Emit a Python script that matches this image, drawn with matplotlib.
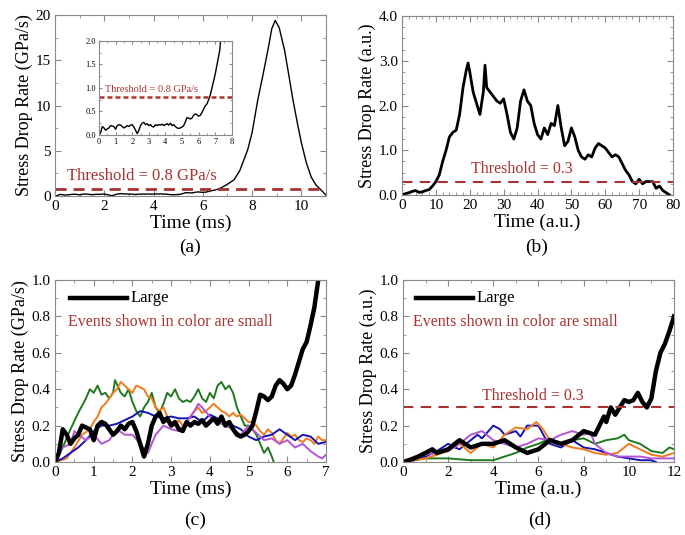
import matplotlib
matplotlib.use("Agg")
import matplotlib.pyplot as plt
import numpy as np
from matplotlib.ticker import AutoMinorLocator, FormatStrFormatter

plt.rcParams['font.family'] = ['Liberation Serif', 'DejaVu Serif']
plt.rcParams['mathtext.fontset'] = 'stix'

# ---- large event (shared by panels a, inset and c), time in ms ----
large_t = [0.0, 0.1, 0.2, 0.3, 0.4, 0.5, 0.6, 0.7, 0.8, 0.9, 1.0, 1.1, 1.2, 1.3, 1.4, 1.5,
           1.6, 1.7, 1.8, 1.9, 2.0, 2.1, 2.2, 2.3, 2.4, 2.5, 2.6, 2.7, 2.8, 2.9, 3.0, 3.1,
           3.2, 3.3, 3.4, 3.5, 3.6, 3.7, 3.8, 3.9, 4.0, 4.1, 4.2, 4.3, 4.4, 4.5, 4.6, 4.7,
           4.8, 4.9, 5.0, 5.1, 5.2, 5.3, 5.4, 5.5, 5.6, 5.7, 5.8, 5.9, 6.0, 6.1, 6.2, 6.3,
           6.4, 6.5, 6.6, 6.7, 6.8]
large_v = [0.0, 0.05, 0.18, 0.15, 0.10, 0.13, 0.15, 0.20, 0.19, 0.18, 0.12, 0.20, 0.22, 0.21, 0.18, 0.15,
           0.17, 0.20, 0.18, 0.21, 0.22, 0.17, 0.10, 0.03, 0.10, 0.20, 0.25, 0.27, 0.22, 0.24, 0.20, 0.22,
           0.18, 0.17, 0.22, 0.20, 0.22, 0.21, 0.23, 0.20, 0.22, 0.24, 0.21, 0.25, 0.20, 0.22, 0.18, 0.15,
           0.14, 0.15, 0.17, 0.20, 0.28, 0.37, 0.36, 0.34, 0.36, 0.42, 0.45, 0.43, 0.40, 0.42, 0.48, 0.55,
           0.62, 0.66, 0.75, 0.85, 1.00]
peak_t = [7.0, 7.27, 7.5, 7.82, 8.0, 8.23, 8.45, 8.64, 8.8, 8.94, 9.1, 9.32, 9.5, 9.66, 9.85,
          10.0, 10.2, 10.4, 10.6, 10.8, 11.0]
peak_v = [1.3, 1.8, 2.8, 5.1, 7.0, 10.6, 13.5, 16.1, 18.5, 19.4, 18.6, 16.1, 13.2, 10.6, 7.9,
          5.9, 3.7, 2.1, 1.2, 0.66, 0.1]

# ---- panel b ----
b_t = [0, 1, 2, 3, 4, 5, 6, 7, 8, 9, 10, 11, 12, 13, 14, 15, 16, 17, 18, 19, 19.5, 20,
       21, 22, 23, 24, 24.5, 25, 26, 27, 28, 29, 30, 31, 32, 33, 34, 35, 36, 37, 38, 39,
       40, 41, 42, 43, 44, 45, 46, 47, 48, 49, 50, 51, 52, 53, 54, 55, 56, 57, 58, 59,
       60, 61, 62, 63, 64, 65, 66, 67, 68, 69, 70, 71, 72, 73, 74, 75, 76, 77, 78, 79]
b_v = [0.0, 0.03, 0.05, 0.08, 0.10, 0.06, 0.07, 0.10, 0.12, 0.20, 0.30, 0.45, 0.75, 1.0, 1.3,
       1.4, 1.45, 1.8, 2.4, 2.8, 2.95, 2.75, 2.3, 2.05, 1.8, 2.3, 2.9, 2.4, 2.3, 2.2, 2.1,
       2.05, 2.15, 1.8, 1.4, 1.25, 1.5, 2.1, 2.35, 2.1, 2.0, 1.6, 1.35, 1.25, 1.5, 1.35,
       1.6, 1.55, 2.0, 1.5, 1.1, 1.2, 1.5, 1.3, 1.0, 0.85, 0.8, 0.9, 0.85, 1.05, 1.15,
       1.1, 1.05, 0.95, 0.85, 0.9, 0.85, 0.7, 0.55, 0.45, 0.3, 0.25, 0.35, 0.25, 0.3,
       0.3, 0.3, 0.15, 0.2, 0.1, 0.05, 0.0]

# ---- panel c small events (ms) ----
c_green_t = [0, 0.2, 0.4, 0.6, 0.8, 0.9, 1.0, 1.1, 1.2, 1.3, 1.4, 1.5, 1.55, 1.7, 1.8, 1.9,
             2.0, 2.1, 2.2, 2.3, 2.4, 2.5, 2.6, 2.7, 2.8, 2.9, 3.0, 3.1, 3.2, 3.3, 3.4, 3.5,
             3.6, 3.7, 3.8, 3.9, 4.0, 4.1, 4.2, 4.3, 4.4, 4.5, 4.6, 4.7, 4.8, 4.9, 5.0, 5.1,
             5.2, 5.3, 5.4, 5.5, 5.6, 5.65]
c_green_v = [0, 0.08, 0.18, 0.27, 0.35, 0.40, 0.38, 0.42, 0.37, 0.38, 0.35, 0.38, 0.45, 0.38,
             0.36, 0.40, 0.33, 0.28, 0.25, 0.30, 0.33, 0.38, 0.30, 0.27, 0.32, 0.38, 0.36, 0.40,
             0.35, 0.33, 0.34, 0.33, 0.36, 0.40, 0.35, 0.33, 0.38, 0.35, 0.42, 0.44, 0.40, 0.42,
             0.38, 0.30, 0.25, 0.20, 0.20, 0.18, 0.15, 0.10, 0.05, 0.08, 0.03, 0.0]
c_orange_t = [0, 0.3, 0.5, 0.7, 0.9, 1.0, 1.1, 1.2, 1.3, 1.4, 1.5, 1.6, 1.7, 1.8, 1.9, 2.0,
              2.1, 2.2, 2.3, 2.4, 2.5, 2.6, 2.7, 2.8, 2.9, 3.0, 3.1, 3.2, 3.3, 3.4, 3.5, 3.6,
              3.7, 3.8, 3.9, 4.0, 4.1, 4.2, 4.3, 4.4, 4.5, 4.6, 4.7, 4.8, 4.9, 5.0, 5.1, 5.2,
              5.3, 5.4, 5.5, 5.6, 5.7, 5.8, 5.9, 6.0, 6.1, 6.2, 6.3, 6.4, 6.5, 6.6, 6.7, 6.8,
              6.9, 7.0]
c_orange_v = [0, 0.02, 0.08, 0.15, 0.18, 0.22, 0.25, 0.30, 0.32, 0.35, 0.38, 0.40, 0.44, 0.42,
              0.40, 0.38, 0.42, 0.41, 0.40, 0.36, 0.35, 0.30, 0.28, 0.30, 0.25, 0.22, 0.20, 0.23,
              0.20, 0.22, 0.25, 0.28, 0.30, 0.27, 0.28, 0.30, 0.32, 0.30, 0.28, 0.27, 0.25, 0.27,
              0.25, 0.26, 0.24, 0.22, 0.22, 0.20, 0.17, 0.15, 0.18, 0.16, 0.12, 0.10, 0.13, 0.16,
              0.14, 0.15, 0.12, 0.11, 0.13, 0.12, 0.10, 0.14, 0.12, 0.12]
c_blue_t = [0, 0.2, 0.4, 0.6, 0.8, 1.0, 1.2, 1.4, 1.6, 1.8, 2.0, 2.2, 2.4, 2.6, 2.8, 3.0, 3.2,
            3.4, 3.6, 3.8, 4.0, 4.2, 4.4, 4.6, 4.8, 5.0, 5.2, 5.4, 5.6, 5.8, 6.0, 6.2, 6.4,
            6.6, 6.8, 7.0]
c_blue_v = [0, 0.02, 0.05, 0.08, 0.12, 0.17, 0.20, 0.20, 0.21, 0.23, 0.25, 0.28, 0.27, 0.25,
            0.24, 0.25, 0.24, 0.24, 0.25, 0.22, 0.26, 0.24, 0.22, 0.20, 0.18, 0.14, 0.12, 0.14,
            0.15, 0.18, 0.15, 0.12, 0.15, 0.14, 0.10, 0.11]
c_purple_t = [0, 0.2, 0.4, 0.5, 0.6, 0.8, 1.0, 1.2, 1.4, 1.6, 1.8, 2.0, 2.2, 2.4, 2.6, 2.8,
              3.0, 3.2, 3.4, 3.6, 3.7, 3.8, 4.0, 4.2, 4.4, 4.6, 4.8, 5.0, 5.2, 5.4, 5.6, 5.8,
              6.0, 6.2, 6.4, 6.6, 6.8, 6.9, 7.0]
c_purple_v = [0, 0.08, 0.10, 0.17, 0.15, 0.12, 0.15, 0.10, 0.12, 0.18, 0.15, 0.15, 0.10, 0.05,
              0.15, 0.20, 0.18, 0.17, 0.22, 0.28, 0.32, 0.30, 0.25, 0.22, 0.20, 0.18, 0.15, 0.20,
              0.16, 0.12, 0.13, 0.10, 0.12, 0.08, 0.10, 0.06, 0.03, 0.02, 0.04]

# ---- panel d (a.u.) ----
d_black_t = [0, 0.5, 1.0, 1.3, 1.5, 2.0, 2.5, 3.0, 3.5, 4.0, 4.5, 5.0, 5.5, 6.0, 6.5, 7.0,
             7.5, 8.0, 8.5, 8.7, 8.9, 9.0, 9.2, 9.4, 9.6, 9.8, 10.0, 10.2, 10.4, 10.6, 10.8,
             11.0, 11.2, 11.4, 11.6, 11.8, 12.0]
d_black_v = [0, 0.02, 0.05, 0.07, 0.05, 0.07, 0.12, 0.08, 0.10, 0.10, 0.12, 0.08, 0.05, 0.07,
             0.12, 0.10, 0.12, 0.17, 0.15, 0.20, 0.25, 0.22, 0.30, 0.26, 0.30, 0.34, 0.33, 0.34,
             0.38, 0.33, 0.30, 0.35, 0.50, 0.60, 0.65, 0.72, 0.80]
d_blue_t = [0, 0.5, 1.0, 1.5, 2.0, 2.3, 2.5, 3.0, 3.3, 3.5, 4.0, 4.3, 4.5, 5.0, 5.2, 5.5, 6.0,
            6.3, 6.5, 7.0, 7.5, 8.0, 8.5, 9.0, 9.5, 10.0, 10.5, 11.0, 11.2]
d_blue_v = [0, 0.01, 0.03, 0.06, 0.10, 0.08, 0.07, 0.12, 0.15, 0.13, 0.20, 0.18, 0.15, 0.17,
            0.14, 0.20, 0.20, 0.13, 0.10, 0.08, 0.12, 0.08, 0.07, 0.05, 0.03, 0.02, 0.01, 0.01, 0.0]
d_orange_t = [0, 0.5, 1.0, 1.5, 2.0, 2.5, 3.0, 3.5, 4.0, 4.5, 5.0, 5.5, 5.9, 6.2, 6.5, 7.0,
              7.5, 8.0, 8.5, 9.0, 9.5, 10.0, 10.5, 11.0, 11.5, 12.0]
d_orange_v = [0, 0.01, 0.02, 0.04, 0.06, 0.10, 0.05, 0.10, 0.08, 0.15, 0.19, 0.18, 0.22, 0.18,
              0.12, 0.10, 0.08, 0.07, 0.05, 0.04, 0.05, 0.10, 0.07, 0.04, 0.03, 0.05]
d_purple_t = [0, 0.5, 1.0, 1.5, 2.0, 2.5, 3.0, 3.5, 4.0, 4.5, 5.0, 5.5, 6.0, 6.5, 7.0, 7.5,
              8.0, 8.3, 8.5, 9.0, 9.5, 10.0, 10.5, 11.0, 12.0]
d_purple_v = [0, 0.03, 0.04, 0.05, 0.06, 0.10, 0.15, 0.17, 0.12, 0.10, 0.08, 0.10, 0.13, 0.12,
              0.15, 0.17, 0.15, 0.16, 0.10, 0.05, 0.03, 0.03, 0.03, 0.02, 0.02]
d_green_t = [0, 1.0, 2.0, 3.0, 4.0, 4.5, 5.0, 5.5, 6.0, 6.5, 7.0, 7.5, 8.0, 8.5, 9.0, 9.5, 9.8,
             10.0, 10.5, 11.0, 11.5, 11.8, 12.0]
d_green_v = [0, 0.02, 0.02, 0.01, 0.01, 0.03, 0.05, 0.08, 0.10, 0.13, 0.10, 0.12, 0.13, 0.10,
             0.12, 0.13, 0.15, 0.12, 0.10, 0.06, 0.05, 0.08, 0.07]

RED = '#a83232'
GREEN = '#1f7a1f'
ORANGE = '#f07b1c'
BLUE = '#1414b4'
PURPLE = '#b455d6'
SPINE = '#8a8a8a'


def style(ax, fs=11, xminor=2, yminor=2):
    for s in ax.spines.values():
        s.set_color(SPINE)
        s.set_linewidth(0.8)
    ax.xaxis.set_minor_locator(AutoMinorLocator(xminor))
    ax.yaxis.set_minor_locator(AutoMinorLocator(yminor))
    ax.tick_params(which='both', direction='in', top=True, right=True, color=SPINE,
                   labelsize=fs, pad=3)
    ax.tick_params(which='major', length=4)
    ax.tick_params(which='minor', length=2)


fig = plt.figure(figsize=(6.85, 5.35), dpi=100)

# (a)
ax1 = fig.add_axes([0.0803, 0.6336, 0.3956, 0.3383])
ax1.plot(large_t + peak_t, large_v + peak_v, color='black', lw=1.0)
ax1.axhline(0.8, color=RED, lw=2, ls=(0, (4, 2.5)))
ax1.text(0.48, 1.3, 'Threshold = 0.8 GPa/s', color=RED, fontsize=12, va='bottom')
ax1.set_xlim(0, 11)
ax1.set_ylim(0, 20)
ax1.set_xticks([0, 2, 4, 6, 8, 10])
ax1.set_yticks([0, 5, 10, 15, 20])
style(ax1)
ax1.set_xlabel('Time (ms)', fontsize=14, labelpad=1)
ax1.set_ylabel('Stress Drop Rate (GPa/s)', fontsize=13, labelpad=2)

# inset
axi = fig.add_axes([0.1445, 0.7477, 0.194, 0.1757])
axi.plot(large_t + peak_t, large_v + peak_v, color='black', lw=1.0)
axi.axhline(0.8, color=RED, lw=1.8, ls=(0, (2, 1.2)))
axi.text(0.35, 0.88, 'Threshold = 0.8 GPa/s', color=RED, fontsize=7.5, va='bottom')
axi.set_xlim(0, 8)
axi.set_ylim(0, 2)
axi.set_xticks(range(0, 9))
axi.set_yticks([0, 0.5, 1.0, 1.5, 2.0])
axi.yaxis.set_major_formatter(FormatStrFormatter('%.1f'))
style(axi, fs=6)
axi.tick_params(which='major', length=2.5, pad=2)
axi.tick_params(which='minor', length=1.2)

# (b)
ax2 = fig.add_axes([0.5869, 0.6355, 0.3956, 0.3346])
ax2.plot(b_t, b_v, color='black', lw=2.0)
ax2.axhline(0.3, color=RED, lw=1.5, ls=(0, (5, 3.5)))
ax2.text(35.5, 0.4, 'Threshold = 0.3', color=RED, fontsize=11.5, ha='center', va='bottom')
ax2.set_xlim(0, 80)
ax2.set_ylim(0, 4)
ax2.set_xticks(range(0, 81, 10))
ax2.set_yticks([0, 1, 2, 3, 4])
ax2.yaxis.set_major_formatter(FormatStrFormatter('%.1f'))
style(ax2, xminor=5, yminor=4)
ax2.set_xlabel('Time (a.u.)', fontsize=14, labelpad=1)
ax2.set_ylabel('Stress Drop Rate (a.u.)', fontsize=13, labelpad=2)

# (c)
ax3 = fig.add_axes([0.0803, 0.1364, 0.3956, 0.3402])
ax3.plot(c_green_t, c_green_v, color=GREEN, lw=1.4)
ax3.plot(c_orange_t, c_orange_v, color=ORANGE, lw=1.4)
ax3.plot(c_blue_t, c_blue_v, color=BLUE, lw=1.4)
ax3.plot(c_purple_t, c_purple_v, color=PURPLE, lw=1.4)
ax3.plot(large_t, large_v, color='black', lw=3.2)
ax3.plot([0.39, 1.85], [0.9, 0.9], color='black', lw=3.2)
ax3.text(1.94, 0.9, 'Large', fontsize=12, va='center')
ax3.text(0.34, 0.77, 'Events shown in color are small', color=RED, fontsize=11.5, va='center')
ax3.set_xlim(0, 7)
ax3.set_ylim(0, 1)
ax3.set_xticks(range(0, 8))
ax3.set_yticks([0, 0.2, 0.4, 0.6, 0.8, 1.0])
ax3.yaxis.set_major_formatter(FormatStrFormatter('%.1f'))
style(ax3)
ax3.set_xlabel('Time (ms)', fontsize=14, labelpad=1)
ax3.set_ylabel('Stress Drop Rate (GPa/s)', fontsize=13, labelpad=2)

# (d)
ax4 = fig.add_axes([0.5883, 0.1364, 0.3956, 0.3402])
ax4.plot(d_green_t, d_green_v, color=GREEN, lw=1.4)
ax4.plot(d_blue_t, d_blue_v, color=BLUE, lw=1.4)
ax4.plot(d_orange_t, d_orange_v, color=ORANGE, lw=1.4)
ax4.plot(d_purple_t, d_purple_v, color=PURPLE, lw=1.4)
ax4.plot(d_black_t, d_black_v, color='black', lw=3.2)
ax4.axhline(0.3, color=RED, lw=1.5, ls=(0, (5, 3.5)))
ax4.text(5.75, 0.32, 'Threshold = 0.3', color=RED, fontsize=11.5, ha='center', va='bottom')
ax4.plot([0.59, 3.1], [0.9, 0.9], color='black', lw=3.2)
ax4.text(3.25, 0.9, 'Large', fontsize=12, va='center')
ax4.text(0.44, 0.77, 'Events shown in color are small', color=RED, fontsize=11.5, va='center')
ax4.set_xlim(0, 12)
ax4.set_ylim(0, 1)
ax4.set_xticks(range(0, 13, 2))
ax4.set_yticks([0, 0.2, 0.4, 0.6, 0.8, 1.0])
ax4.yaxis.set_major_formatter(FormatStrFormatter('%.1f'))
style(ax4)
ax4.set_xlabel('Time (a.u.)', fontsize=14, labelpad=1)
ax4.set_ylabel('Stress Drop Rate (a.u.)', fontsize=13, labelpad=2)

fig.text(190 / 685, 1 - 247 / 535, '(a)', fontsize=14, ha='center', va='center')
fig.text(537 / 685, 1 - 247 / 535, '(b)', fontsize=14, ha='center', va='center')
fig.text(195 / 685, 1 - 520 / 535, '(c)', fontsize=14, ha='center', va='center')
fig.text(540 / 685, 1 - 520 / 535, '(d)', fontsize=14, ha='center', va='center')

fig.savefig('out.png', dpi=100)
